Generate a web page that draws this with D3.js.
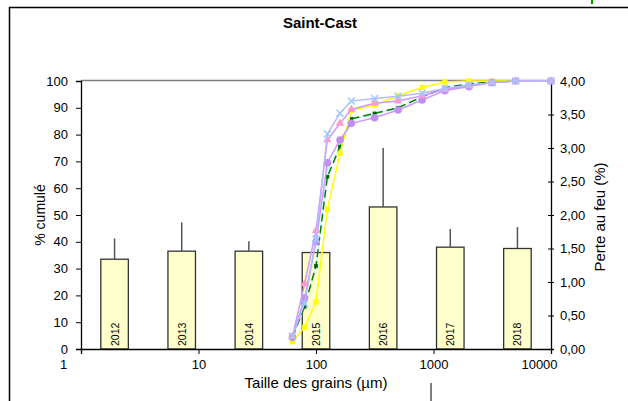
<html>
<head>
<meta charset="utf-8">
<script src="https://d3js.org/d3.v7.min.js"></script>
<style>
  body { margin: 0; background: #fff; }
  text { font-family: "Liberation Sans", Arial, sans-serif; fill: #000; }
</style>
</head>
<body>
<div id="chart"></div>
<script>
// sieve sizes (µm) and cumulative % per sample
var sizes = [63, 80, 100, 125, 160, 200, 315, 500, 800, 1250, 2000, 3150, 5000, 10000];
var cumCyan   = [4.2, 16, 31, 67.4, 75.3, 85.5, 87.5, 90, 94, 97.3, 98.8, 99.6, 100, 100];
var cumGreen  = [4.4, 15.8, 31, 64.3, 75.5, 85.9, 87.9, 90, 94.1, 97.5, 98.9, 99.6, 100, 100];
var cumYellow = [2.7, 8.1, 17.6, 52.2, 73, 89, 91, 94.5, 97.6, 99.6, 100, 100, 100, 100];
var cumPurple = [4.4, 19, 40, 69.5, 78, 84.2, 86.3, 89.2, 92.9, 96.4, 97.9, 99.4, 100, 100];
var cumPink   = [4.6, 24.3, 44.2, 78, 84.2, 89.4, 91.7, 92.5, 94.5, 96.8, 98.2, 99.4, 100, 100];
var cumBlue   = [4.8, 17, 41, 80.2, 88, 92.5, 93.5, 94.3, 95.4, 97.2, 98.5, 99.3, 100, 100];

// loss on ignition per year (%)
var years = ["2012", "2013", "2014", "2015", "2016", "2017", "2018"];
var lossMean = [1.34, 1.46, 1.46, 1.44, 2.12, 1.52, 1.50];
var lossErr  = [0.31, 0.43, 0.15, 0, 0.88, 0.27, 0.32];

var xTicks = [1, 10, 100, 1000, 10000];
var pctTicks = [0, 10, 20, 30, 40, 50, 60, 70, 80, 90, 100];
var lossTicks = [0, 0.5, 1, 1.5, 2, 2.5, 3, 3.5, 4];

(function() {
var W = 628, H = 401;
var pLeft = 81, pRight = 551, pTop = 81, pBottom = 349;

var svg = d3.select("#chart").append("svg")
  .attr("width", W).attr("height", H);

// outer chart frame
svg.append("path").attr("d", "M9.5," + H + " V7.5 H" + W)
  .attr("fill", "none").attr("stroke", "#000").attr("stroke-width", 1.5);
svg.append("line").attr("x1", 592).attr("x2", 592).attr("y1", 0).attr("y2", 4)
  .attr("stroke", "#009900").attr("stroke-width", 2);
svg.append("line").attr("x1", 431).attr("x2", 431).attr("y1", 383).attr("y2", H)
  .attr("stroke", "#000").attr("stroke-width", 1);

svg.append("text").attr("x", 320).attr("y", 28).attr("text-anchor", "middle")
  .style("font-size", "15px").style("font-weight", "bold").text("Saint-Cast");

var x = d3.scaleLog().domain([1, 10000]).range([pLeft, pRight]);
var y = d3.scaleLinear().domain([0, 100]).range([pBottom, pTop]);
var y2 = d3.scaleLinear().domain([0, 4]).range([pBottom, pTop]);
var xb = d3.scaleBand().domain(years).range([pLeft, pRight])
  .paddingInner(0.59).paddingOuter(0.295);

// plot area top border
svg.append("line").attr("x1", pLeft).attr("x2", pRight).attr("y1", pTop - 0.5).attr("y2", pTop - 0.5)
  .attr("stroke", "#808080").attr("stroke-width", 1.5);

// bars
var bars = svg.append("g");
bars.selectAll("rect").data(years).enter().append("rect")
  .attr("x", function(d) { return xb(d); })
  .attr("width", xb.bandwidth())
  .attr("y", function(d, i) { return y2(lossMean[i]); })
  .attr("height", function(d, i) { return pBottom - y2(lossMean[i]); })
  .attr("fill", "#FFFFCC").attr("stroke", "#333").attr("stroke-width", 1.3);
bars.selectAll("line").data(years).enter().append("line")
  .attr("x1", function(d) { return xb(d) + xb.bandwidth() / 2; })
  .attr("x2", function(d) { return xb(d) + xb.bandwidth() / 2; })
  .attr("y1", function(d, i) { return y2(lossMean[i]); })
  .attr("y2", function(d, i) { return y2(lossMean[i] + lossErr[i]); })
  .attr("stroke", "#555").attr("stroke-width", 1.5);
bars.selectAll("text").data(years).enter().append("text")
  .attr("transform", function(d) {
    return "translate(" + (xb(d) + xb.bandwidth() / 2 + 4) + "," + (pBottom - 3) + ") rotate(-90)";
  })
  .style("font-size", "10.5px").text(function(d) { return d; });

// axes
var gx = svg.append("g").attr("transform", "translate(0," + pBottom + ")")
  .call(d3.axisBottom(x).tickValues(xTicks).tickFormat(d3.format("d")).tickSizeOuter(0).tickSize(5).tickPadding(6));
gx.selectAll("text").style("font-size", "13px")
  .attr("dx", function(d) { return d === 1 ? -18 : (d === 10000 ? -12 : 0); });

var gy = svg.append("g").attr("transform", "translate(" + pLeft + ",0)")
  .call(d3.axisLeft(y).tickValues(pctTicks).tickSizeOuter(0).tickSize(5).tickPadding(8));
gy.selectAll("text").style("font-size", "13px");

var fr = d3.format(".2f");
var gy2 = svg.append("g").attr("transform", "translate(" + pRight + ",0)")
  .call(d3.axisRight(y2).tickValues(lossTicks).tickSizeOuter(0).tickSize(3).tickPadding(6)
    .tickFormat(function(d) { return fr(d).replace(".", ","); }));
gy2.selectAll(".tick line").attr("x1", -3);
gy2.selectAll("text").style("font-size", "13px");

[gx, gy, gy2].forEach(function(g) {
  g.select(".domain").attr("stroke", "#000").attr("stroke-width", 1.3);
  g.selectAll(".tick line").attr("stroke", "#000");
});

svg.append("text").attr("transform", "translate(45,215) rotate(-90)")
  .attr("text-anchor", "middle").style("font-size", "14px").text("% cumulé");
svg.append("text").attr("transform", "translate(605,217) rotate(-90)")
  .attr("text-anchor", "middle").style("font-size", "15px").text("Perte au feu (%)");
svg.append("text").attr("x", 316).attr("y", 388)
  .attr("text-anchor", "middle").style("font-size", "15px").text("Taille des grains (µm)");

// custom X marker
var symX = { draw: function(ctx, size) {
  var r = Math.sqrt(size) / 2;
  ctx.moveTo(-r, -r); ctx.lineTo(r, r);
  ctx.moveTo(r, -r); ctx.lineTo(-r, r);
} };

var series = [
  { v: cumCyan,   line: "#CCFFFF", dash: null, sym: d3.symbolSquare, size: 30, fill: "#CCFFFF", stroke: "none" },
  { v: cumGreen,  line: "#008000", dash: "8,4", sym: d3.symbolSquare, size: 14, fill: "#006400", stroke: "none" },
  { v: cumYellow, line: "#FFFF00", dash: null, sym: d3.symbolSquare, size: 28, fill: "#FFFF00", stroke: "none" },
  { v: cumPurple, line: "#CC99FF", dash: null, sym: d3.symbolCircle, size: 45, fill: "#C28EF2", stroke: "none" },
  { v: cumPink,   line: "#CC99FF", dash: null, sym: d3.symbolTriangle, size: 30, fill: "#FF99CC", stroke: "none" },
  { v: cumBlue,   line: "#B8B8FF", dash: null, sym: symX, size: 49, fill: "none", stroke: "#99CCFF" }
];

var lineGen = d3.line()
  .x(function(d) { return x(d[0]); })
  .y(function(d) { return y(d[1]); });

series.forEach(function(s) {
  var pts = sizes.map(function(sz, i) { return [sz, s.v[i]]; });
  var g = svg.append("g");
  g.append("path").attr("d", lineGen(pts))
    .attr("fill", "none").attr("stroke", s.line).attr("stroke-width", 1.5)
    .attr("stroke-dasharray", s.dash);
  g.selectAll("path.m").data(pts).enter().append("path").attr("class", "m")
    .attr("transform", function(d) { return "translate(" + x(d[0]) + "," + y(d[1]) + ")"; })
    .attr("d", d3.symbol().type(s.sym).size(s.size))
    .attr("fill", s.fill).attr("stroke", s.stroke).attr("stroke-width", 1.5);
});
})();
</script>
</body>
</html>
